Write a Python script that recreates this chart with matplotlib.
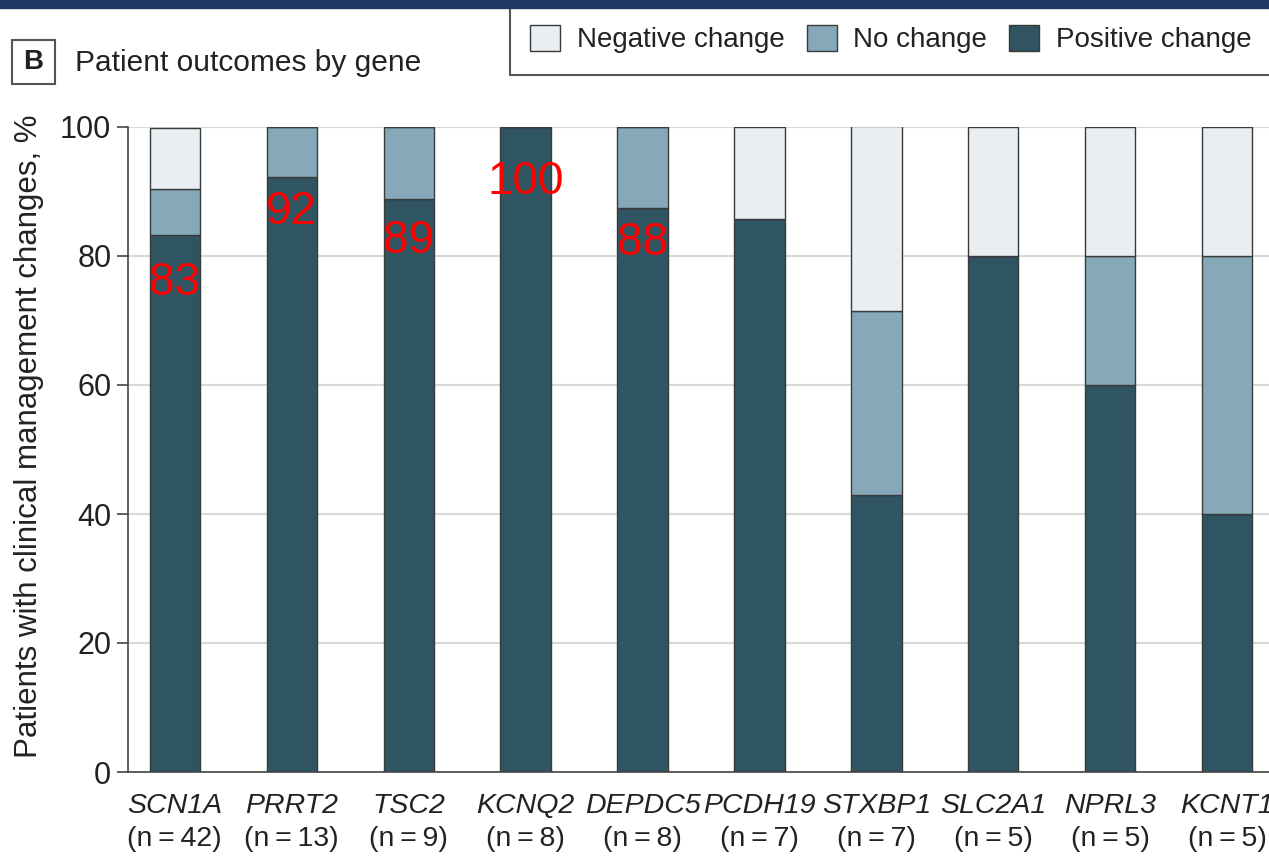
import matplotlib.pyplot as plt
from matplotlib.patches import Rectangle, Patch

plt.rcParams['font.family'] = ['Liberation Sans', 'DejaVu Sans']

genes = ['SCN1A', 'PRRT2', 'TSC2', 'KCNQ2', 'DEPDC5', 'PCDH19', 'STXBP1', 'SLC2A1', 'NPRL3', 'KCNT1']
n_patients = [42, 13, 9, 8, 8, 7, 7, 5, 5, 5]
positive = [83.3, 92.3, 88.9, 100.0, 87.5, 85.7, 42.9, 80.0, 60.0, 40.0]
no_change = [7.1, 7.7, 11.1, 0.0, 12.5, 0.0, 28.6, 0.0, 20.0, 40.0]
negative = [9.5, 0.0, 0.0, 0.0, 0.0, 14.3, 28.6, 20.0, 20.0, 20.0]
# red value labels on the first five bars
labelled = [0, 1, 2, 3, 4]
label_shift = [-7.5, -5.5, -6.5, -8.5, -5.5]

c_neg = '#e8eef2'
c_no = '#86a9b9'
c_pos = '#2e5561'
edge = '#3a3a3a'
ink = '#222222'

W, H = 1269, 858
fig = plt.figure(figsize=(W / 100, H / 100), dpi=100)
ax = fig.add_axes([128 / W, (H - 772) / H, (1274 - 128) / W, (772 - 127) / H])

x = list(range(len(genes)))
bottom2 = [p + n for p, n in zip(positive, no_change)]
kw = dict(width=0.43, edgecolor=edge, linewidth=1.0, zorder=3)
ax.bar(x, positive, color=c_pos, **kw)
ax.bar(x, no_change, bottom=positive, color=c_no, **kw)
ax.bar(x, negative, bottom=bottom2, color=c_neg, **kw)

ax.set_xlim(-0.40, 9.40)
ax.set_ylim(0, 100)
ax.set_yticks([0, 20, 40, 60, 80, 100])
ax.yaxis.grid(True, color='#d9d9d9', linewidth=1.5, zorder=0)
ax.tick_params(axis='y', labelsize=22, length=8, width=1.2, color='#444444', pad=4, labelcolor=ink)
ax.tick_params(axis='x', length=0, labelbottom=False)
ax.set_xticks(x)
for s in ['top', 'right']:
    ax.spines[s].set_visible(False)
for s in ['left', 'bottom']:
    ax.spines[s].set_color('#444444')
    ax.spines[s].set_linewidth(1.2)
ax.spines['bottom'].set_zorder(4)
ax.set_ylabel('Patients with clinical management changes, %', fontsize=22.5, color=ink)
ax.yaxis.set_label_coords(-0.073, 0.52)

# two-line category labels: italic gene, plain sample size
trans = ax.get_xaxis_transform()
for i, (g, n) in enumerate(zip(genes, n_patients)):
    ax.text(i, -0.053, g, transform=trans, ha='center', va='center', fontsize=20.5,
            style='italic', color=ink, clip_on=False)
    ax.text(i, -0.104, f'(n\u2009=\u2009{n})', transform=trans, ha='center', va='center',
            fontsize=20.5, color=ink, clip_on=False)

for i, dy in zip(labelled, label_shift):
    ax.text(i, positive[i] + dy, f'{round(positive[i])}', ha='center', va='center',
            fontsize=33, color='red', zorder=5)

# header band, panel letter and title
fig.patches.append(Rectangle((0, (H - 8) / H), 1, 8 / H, transform=fig.transFigure,
                             color='#203864', zorder=10))
fig.patches.append(Rectangle((12 / W, (H - 84) / H), 43 / W, 44 / H, transform=fig.transFigure,
                             facecolor='white', edgecolor='#555555', linewidth=1.5))
fig.text(33.5 / W, (H - 62) / H, 'B', ha='center', va='center', fontsize=20, weight='bold', color=ink)
fig.text(75 / W, (H - 63) / H, 'Patient outcomes by gene', ha='left', va='center', fontsize=21.5, color=ink)

# legend box running off the right edge
fig.patches.append(Rectangle((510 / W, (H - 75) / H), 800 / W, 70 / H, transform=fig.transFigure,
                             facecolor='white', edgecolor='#555555', linewidth=1.5, zorder=1))
handles = [Patch(facecolor=c_neg, edgecolor=edge, label='Negative change'),
           Patch(facecolor=c_no, edgecolor=edge, label='No change'),
           Patch(facecolor=c_pos, edgecolor=edge, label='Positive change')]
fig.legend(handles=handles, loc='center left', bbox_to_anchor=(530 / W, (H - 39) / H), ncol=3,
           frameon=False, fontsize=20, handlelength=1.08, handleheight=1.08, handletextpad=0.6,
           columnspacing=0.8, borderpad=0, borderaxespad=0, labelcolor=ink)

fig.savefig('out.png', dpi=100)
